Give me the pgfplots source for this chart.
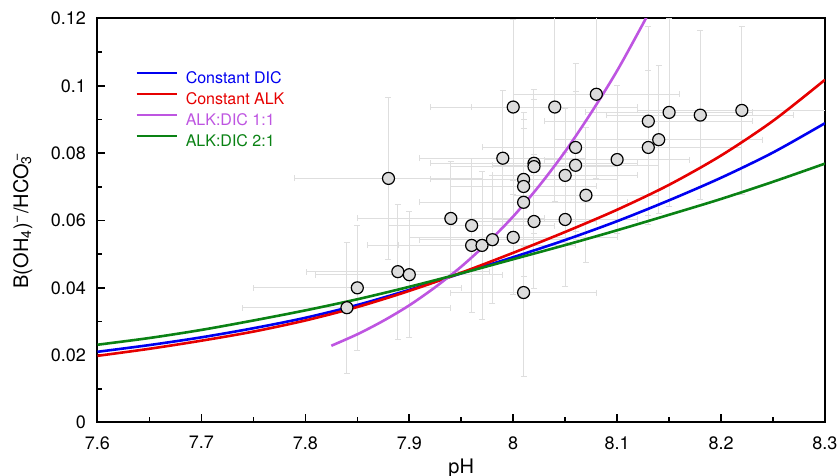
\documentclass[border=0pt]{standalone}
\usepackage{fontspec}
\setmainfont{TeX Gyre Heros}
\usepackage{pgfplots}
\usepackage{pgfplotstable}
\pgfplotsset{compat=1.18}
\definecolor{cdic}{RGB}{0,0,240}
\definecolor{calk}{RGB}{230,0,0}
\definecolor{cone}{RGB}{190,85,225}
\definecolor{ctwo}{RGB}{10,130,20}
\definecolor{mfill}{RGB}{220,220,220}
\definecolor{ebar}{RGB}{222,222,222}

\pgfplotstableread{
x y ex ey
7.84 0.0341 0.10 0.0195
7.85 0.0400 0.10 0.0185
7.889 0.0448 0.088 0.020
7.90 0.0439 0.09 0.0187
7.88 0.0725 0.09 0.024
7.94 0.0606 0.09 0.017
7.96 0.0585 0.08 0.020
7.96 0.0526 0.10 0.020
7.97 0.0526 0.08 0.022
7.98 0.0543 0.07 0.019
7.99 0.0785 0.08 0.020
8.00 0.0937 0.08 0.026
8.00 0.0550 0.10 0.017
8.01 0.0722 0.09 0.020
8.01 0.0701 0.07 0.020
8.01 0.0654 0.10 0.022
8.01 0.0386 0.07 0.025
8.02 0.0770 0.10 0.022
8.02 0.0760 0.08 0.020
8.02 0.0597 0.06 0.020
8.04 0.0937 0.08 0.028
8.05 0.0603 0.07 0.020
8.05 0.0734 0.07 0.020
8.06 0.0817 0.09 0.025
8.06 0.0764 0.08 0.022
8.07 0.0675 0.07 0.020
8.08 0.0975 0.08 0.025
8.10 0.0781 0.07 0.022
8.13 0.0895 0.10 0.028
8.13 0.0817 0.09 0.023
8.14 0.0840 0.10 0.022
8.15 0.0921 0.08 0.028
8.18 0.0913 0.09 0.025
8.22 0.0927 0.10 0.025
}\datatab

\begin{document}
\begin{tikzpicture}
\useasboundingbox (-48.75pt,-26.75pt) rectangle (369.75pt,211.25pt);
\begin{axis}[
  at={(0pt,0pt)}, anchor=south west,
  width=363.75pt, height=202pt, scale only axis,
  xmin=7.6, xmax=8.3, ymin=0, ymax=0.12,
  xtick={7.6,7.7,7.8,7.9,8.0,8.1,8.2,8.3},
  ytick={0,0.02,0.04,0.06,0.08,0.1,0.12},
  minor x tick num=1, minor y tick num=1,
  tick align=inside, tick pos=left,
  major tick length=4pt, minor tick length=2.5pt,
  axis line style={line width=1pt},
  every tick/.style={black, line width=0.8pt},
  scaled y ticks=false, scaled x ticks=false,
  /pgf/number format/assume math mode=true,
  yticklabel style={/pgf/number format/fixed, /pgf/number format/precision=2, xshift=-2.25pt},
  xticklabel style={/pgf/number format/fixed, yshift=-3.4pt},
  tick label style={font=\fontsize{9}{10}\selectfont},
  label style={font=\fontsize{10}{11}\selectfont},
  xlabel={pH},
  ylabel={B(OH\textsubscript{4})\textsuperscript{−}/HCO\rlap{\textsubscript{3}}\textsuperscript{\,−}},
  xlabel style={at={(axis description cs:0.5,-0.127)}, anchor=base},
  ylabel style={at={(axis description cs:-0.0955,0.5)}, anchor=base},
  legend cell align=left,
  legend image code/.code={\draw[#1, line width=1.2pt] (0pt,2.8pt)--(20pt,2.8pt);},
  legend style={draw=none, fill=none, at={(axis description cs:0.0515,0.8705)}, anchor=north west,
    font=\fontsize{8}{9.5}\selectfont, inner sep=0pt, row sep=3pt,
    nodes={inner sep=0pt, text height=6pt, text depth=1.5pt},
    /tikz/every odd column/.style={column sep=4pt}},
]
% error bars
\addplot[forget plot, only marks, mark=none,
  error bars/.cd, x dir=both, x explicit, y dir=both, y explicit,
  error bar style={ebar, line width=0.5pt},
  error mark options={rotate=90, ebar, mark size=1.5pt, line width=0.5pt}]
  table[x=x, y=y, x error=ex, y error=ey]{\datatab};
% curves
\addplot[cdic, line width=1.3pt, smooth] coordinates {
(7.60,0.0210)(7.65,0.0230)(7.70,0.0253)(7.75,0.0280)(7.80,0.0311)(7.85,0.0349)(7.90,0.0394)(7.95,0.0443)(8.00,0.0491)(8.05,0.0542)(8.10,0.0598)(8.15,0.0660)(8.20,0.0727)(8.25,0.0802)(8.30,0.0889)};
\addlegendentry{\textcolor{cdic}{Constant DIC}}
\addplot[calk, line width=1.3pt, smooth] coordinates {
(7.60,0.0198)(7.65,0.0219)(7.70,0.0243)(7.75,0.0270)(7.80,0.0303)(7.85,0.0343)(7.90,0.0391)(7.95,0.0445)(8.00,0.0504)(8.05,0.0566)(8.10,0.0632)(8.15,0.0706)(8.20,0.0793)(8.25,0.0896)(8.30,0.1018)};
\addlegendentry{\textcolor{calk}{Constant ALK}}
\addplot[cone, line width=1.3pt, smooth] coordinates {
(7.825,0.0228)(7.85,0.0262)(7.875,0.0302)(7.90,0.0348)(7.925,0.0402)(7.95,0.0463)(7.975,0.0533)(8.00,0.0612)(8.025,0.0703)(8.05,0.0805)(8.075,0.0920)(8.10,0.1045)(8.125,0.1185)(8.13,0.1215)};
\addlegendentry{\textcolor{cone}{ALK:DIC 1:1}}
\addplot[ctwo, line width=1.3pt, smooth] coordinates {
(7.60,0.0231)(7.65,0.0251)(7.70,0.0275)(7.75,0.0303)(7.80,0.0333)(7.85,0.0366)(7.90,0.0403)(7.95,0.0443)(8.00,0.0485)(8.05,0.0527)(8.10,0.0571)(8.15,0.0617)(8.20,0.0664)(8.25,0.0715)(8.30,0.0769)};
\addlegendentry{\textcolor{ctwo}{ALK:DIC 2:1}}
% markers
\addplot[forget plot, only marks, mark=*, mark size=3pt,
  mark options={fill=mfill, draw=black, line width=0.6pt}]
  table[x=x, y=y]{\datatab};
\end{axis}
\end{tikzpicture}
\end{document}
